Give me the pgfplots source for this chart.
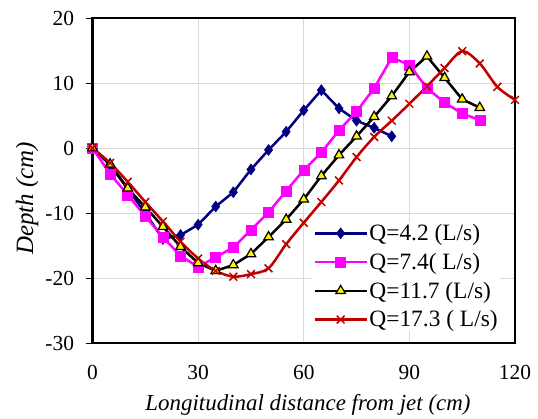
\documentclass[border=0pt]{standalone}
\usepackage{fontspec}
\setmainfont{Liberation Serif}
\usepackage{pgfplots}
\pgfplotsset{compat=1.18}
\definecolor{qblue}{HTML}{000080}
\definecolor{qmag}{HTML}{FF00FF}
\definecolor{qred}{HTML}{C00000}
\begin{document}
\begin{tikzpicture}
\path[use as bounding box] (0,0) rectangle (538bp,419bp);
\begin{axis}[
  at={(92.5bp,76bp)}, anchor=south west,
  scale only axis, width=422.5bp, height=325bp,
  xmin=0, xmax=120, ymin=-30, ymax=20,
  xtick={0,30,60,90,120}, ytick={-30,-20,-10,0,10,20},
  grid=major, grid style={line width=0.7bp, color=black!15},
  tick align=outside, tick pos=left,
  major tick length=7bp,
  xtick style={draw=none},
  ytick style={line width=0.9bp, black},
  /pgf/number format/assume math mode=true,
  ticklabel style={font=\fontsize{21.5}{25}\selectfont},
  xticklabel style={yshift=-12bp},
  yticklabel style={xshift=-8bp},
  xlabel={\textit{Longitudinal distance from jet (cm)}},
  ylabel={\textit{Depth (cm)}},
  xlabel style={font=\fontsize{23}{26}\selectfont, at={(axis description cs:0.51,-0.19)}, anchor=center},
  ylabel style={font=\fontsize{25}{28}\selectfont, at={(axis description cs:-0.155,0.445)}, anchor=center},
  clip=false,
  legend cell align=left,
  legend style={at={(0.52,0.373)}, anchor=north west, draw=none, fill=white,
    font=\fontsize{23.5}{27}\selectfont, row sep=8bp, inner sep=1bp,
    nodes={inner sep=1.5bp}},
  legend image code/.code={%
    \draw[mark repeat=2,mark phase=2,#1] plot coordinates {(0bp,0bp) (26bp,0bp) (52bp,0bp)};},
]
\draw[line width=2.8bp, black] (rel axis cs:0,0) rectangle (rel axis cs:1,1);
\addplot[color=qblue, line width=2.5bp, mark=diamond*, mark size=5.5bp,
  mark options={fill=qblue, draw=qblue, line width=0.5bp}] coordinates {
(0,0) (5,-2.6) (10,-6.3) (15,-10.0) (20,-14.0) (25,-13.4) (30,-11.8) (35,-9.0)
(40,-6.8) (45,-3.3) (50,-0.3) (55,2.5) (60,5.8) (65,8.9) (70,6.1) (75,4.2)
(80,3.1) (85,1.8)};
\addlegendentry{Q=4.2 (L/s)}
\addplot[color=qmag, line width=2.5bp, mark=square*, mark size=5bp,
  mark options={fill=qmag, draw=qmag, line width=0.5bp}] coordinates {
(0,0) (5,-4.0) (10,-7.2) (15,-10.5) (20,-13.7) (25,-16.6) (30,-18.3) (35,-16.8)
(40,-15.3) (45,-12.6) (50,-9.9) (55,-6.6) (60,-3.4) (65,-0.7) (70,2.7) (75,5.6)
(80,9.2) (85,13.9) (90,12.8) (95,9.2) (100,7.0) (105,5.3) (110,4.3)};
\addlegendentry{Q=7.4( L/s)}
\addplot[color=black, line width=2.5bp, mark=triangle*, mark size=5.5bp,
  mark options={fill=yellow, draw=black, line width=1.2bp}] coordinates {
(0,0) (5,-2.5) (10,-6.2) (15,-9.1) (20,-12.1) (25,-15.2) (30,-17.7) (35,-18.9)
(40,-18.0) (45,-16.3) (50,-13.7) (55,-11.0) (60,-7.9) (65,-4.3) (70,-1.1) (75,1.8)
(80,4.8) (85,8.0) (90,11.7) (95,14.1) (100,10.8) (105,7.5) (110,6.2)};
\addlegendentry{Q=11.7 (L/s)}
\addplot[color=qred, line width=2.5bp, smooth, mark=x, mark size=5.5bp,
  mark options={draw=qred, line width=1.5bp}] coordinates {
(0,0) (5,-2.3) (10,-5.2) (15,-8.3) (20,-11.3) (25,-14.4) (30,-17.0) (35,-18.9)
(40,-19.8) (45,-19.4) (50,-18.5) (55,-14.8) (60,-11.5) (65,-8.3) (70,-5.0) (75,-1.4)
(80,1.7) (85,4.2) (90,6.8) (95,9.5) (100,12.3) (105,14.9) (110,13.0) (115,9.4) (120,7.4)};
\addlegendentry{Q=17.3 ( L/s)}
\end{axis}
\end{tikzpicture}
\end{document}
